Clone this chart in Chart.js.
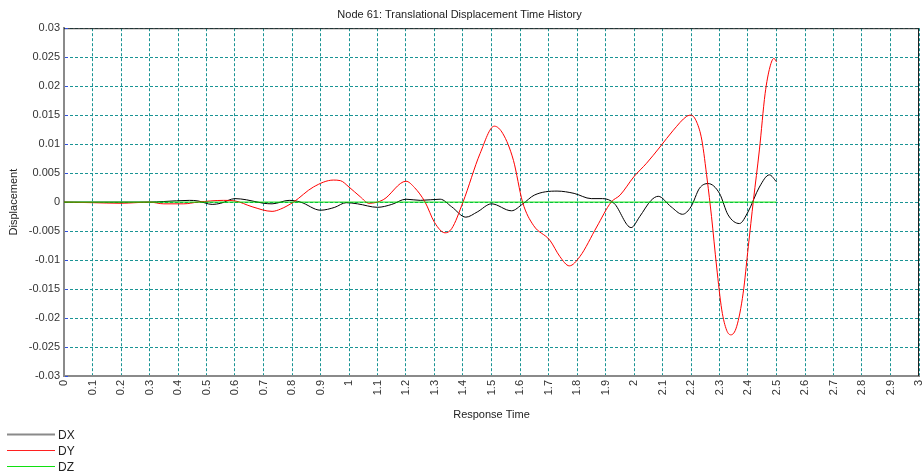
<!DOCTYPE html>
<html>
<head>
<meta charset="utf-8">
<script src="https://cdn.jsdelivr.net/npm/chart.js@4/dist/chart.umd.min.js"></script>
<style>
  html, body { margin: 0; padding: 0; background: #ffffff; }
  #wrap { width: 922px; height: 474px; position: relative; }
</style>
</head>
<body>
<div id="wrap"><canvas id="c" width="922" height="474"></canvas></div>
<script>
// ---- Data ----
const chartTitle = "Node 61: Translational Displacement Time History";
const xAxisTitle = "Response Time";
const yAxisTitle = "Displacement";
const seriesNames = ["DX", "DY", "DZ"];

const xTicks = [0,0.1,0.2,0.3,0.4,0.5,0.6,0.7,0.8,0.9,1,1.1,1.2,1.3,1.4,1.5,1.6,1.7,1.8,1.9,2,2.1,2.2,2.3,2.4,2.5,2.6,2.7,2.8,2.9,3];
const yTicks = [-0.03,-0.025,-0.02,-0.015,-0.01,-0.005,0,0.005,0.01,0.015,0.02,0.025,0.03];

const dxTime = [0,0.1,0.2,0.3,0.35,0.44,0.47,0.52,0.55,0.6,0.64,0.70,0.73,0.79,0.83,0.9,0.95,0.99,1.03,1.1,1.15,1.2,1.25,1.32,1.36,1.41,1.45,1.5,1.57,1.61,1.65,1.73,1.79,1.85,1.89,1.93,1.99,2.02,2.06,2.085,2.13,2.17,2.2,2.23,2.26,2.3,2.33,2.37,2.4,2.44,2.475,2.5];
const dxValue = [0,0,0,0,0.0001,0.0003,0.0002,-0.0004,-0.0002,0.0006,0.0004,-0.0002,-0.0003,0.0003,0.0,-0.0014,-0.0009,-0.0001,-0.0003,-0.0009,-0.0004,0.0005,0.0003,0.0005,-0.0008,-0.0026,-0.0017,-0.0003,-0.0015,-0.0003,0.0012,0.0019,0.0015,0.0006,0.0006,-0.0002,-0.0044,-0.0025,0.0003,0.001,-0.0008,-0.0021,-0.0008,0.0024,0.0032,0.0015,-0.0022,-0.0037,-0.0017,0.0026,0.0047,0.0035];

const dyTime = [0,0.1,0.2,0.25,0.3,0.35,0.42,0.47,0.56,0.6,0.66,0.73,0.76,0.805,0.875,0.945,0.97,1.0,1.04,1.07,1.12,1.2,1.23,1.267,1.3,1.337,1.36,1.4,1.46,1.51,1.54,1.577,1.609,1.647,1.705,1.74,1.773,1.81,1.869,1.92,1.951,2.0,2.044,2.091,2.138,2.185,2.2,2.22,2.238,2.257,2.272,2.29,2.308,2.325,2.34,2.36,2.383,2.401,2.419,2.44,2.46,2.477,2.491,2.5];
const dyValue = [0,-0.0001,-0.0002,-0.0001,0,-0.0003,-0.0003,0,0.0003,0.0002,-0.0008,-0.0016,-0.0012,0,0.0026,0.0038,0.0037,0.0026,0.0009,-0.0002,0.0004,0.0036,0.0025,0,-0.0035,-0.0053,-0.0046,0,0.0084,0.0131,0.0118,0.0072,0,-0.004,-0.0066,-0.0094,-0.011,-0.0094,-0.0043,0,0.0012,0.0044,0.0067,0.0095,0.0124,0.0148,0.015,0.0138,0.0107,0.0038,-0.0025,-0.0112,-0.0186,-0.0221,-0.0229,-0.0215,-0.0157,-0.0077,0.0003,0.009,0.0187,0.0233,0.0248,0.0242];

const dzTime = [0,0.5,1,1.5,2,2.5];
const dzValue = [0,0,0,0,0,0];

// ---- Styles ----
const FONT = "'Liberation Sans', Arial, sans-serif";
const lineColors = ["#000000", "#ff0000", "#00e000"];
const legendColors = ["#8a8a8a", "#ff2020", "#10e010"];
const legendWidths = [2, 1, 1];

function pairs(t, v) { return t.map((x, i) => ({ x: x, y: v[i] })); }
function fmt(v, d) { return String(parseFloat(v.toFixed(d))); }

const boxPlugin = {
  id: 'boxPlugin',
  beforeDatasetsDraw(chart) {
    const a = chart.chartArea, ctx = chart.ctx;
    ctx.save();
    ctx.strokeStyle = '#222';
    ctx.lineWidth = 1;
    ctx.beginPath();
    ctx.moveTo(a.left, a.top + 0.5); ctx.lineTo(a.right, a.top + 0.5);
    ctx.moveTo(a.right - 0.5, a.top); ctx.lineTo(a.right - 0.5, a.bottom);
    ctx.stroke();
    // small blue tick marks on the y axis
    const ys = chart.scales.y;
    ctx.strokeStyle = '#3050e0';
    ctx.beginPath();
    ys.ticks.forEach(t => {
      const py = Math.round(ys.getPixelForValue(t.value)) + 0.5;
      ctx.moveTo(a.left + 1, py); ctx.lineTo(a.left + 4, py);
    });
    ctx.stroke();
    ctx.restore();
  },
  afterDraw(chart) {
    const ctx = chart.ctx;
    ctx.save();
    ctx.font = "12px " + FONT;
    ctx.textBaseline = 'middle';
    ctx.fillStyle = '#222';
    const ys = [434.5, 450.5, 466.5];
    seriesNames.forEach((n, i) => {
      ctx.strokeStyle = legendColors[i];
      ctx.lineWidth = legendWidths[i];
      ctx.beginPath();
      ctx.moveTo(7, ys[i]); ctx.lineTo(55, ys[i]);
      ctx.stroke();
      ctx.fillText(n, 58, ys[i] + 1);
    });
    ctx.restore();
  }
};

new Chart(document.getElementById('c'), {
  type: 'line',
  data: {
    datasets: [
      { label: seriesNames[0], data: pairs(dxTime, dxValue), borderColor: lineColors[0], order: 2 },
      { label: seriesNames[1], data: pairs(dyTime, dyValue), borderColor: lineColors[1], order: 1 },
      { label: seriesNames[2], data: pairs(dzTime, dzValue), borderColor: lineColors[2], order: 0 }
    ]
  },
  options: {
    responsive: false,
    animation: false,
    devicePixelRatio: 1,
    layout: { padding: { left: 0, right: 3, top: 0, bottom: 52 } },
    elements: {
      point: { radius: 0 },
      line: { borderWidth: 1, cubicInterpolationMode: 'monotone', fill: false }
    },
    plugins: {
      legend: { display: false },
      tooltip: { enabled: false },
      title: {
        display: true, text: chartTitle, color: '#222',
        font: { family: FONT, size: 11, weight: 'normal' },
        padding: { top: 8, bottom: 7 }
      }
    },
    scales: {
      x: {
        type: 'linear', min: 0, max: 3,
        afterBuildTicks(s) { s.ticks = xTicks.map(v => ({ value: v })); },
        afterFit(s) { s.height = 46; s.paddingLeft = 0; s.paddingRight = 0; },
        ticks: {
          minRotation: 90, maxRotation: 90, autoSkip: false, padding: 4,
          color: '#333', font: { family: FONT, size: 11 },
          callback: v => fmt(v, 1)
        },
        grid: { color: '#1a9494', lineWidth: 1, drawTicks: false },
        border: { display: true, color: '#8a8a8a', width: 2, dash: [3, 2] },
        title: { display: true, text: xAxisTitle, color: '#222', font: { family: FONT, size: 11 }, padding: { top: 4, bottom: 0 } }
      },
      y: {
        type: 'linear', min: -0.03, max: 0.03,
        afterBuildTicks(s) { s.ticks = yTicks.map(v => ({ value: v })); },
        afterFit(s) { s.width = 64; },
        ticks: {
          padding: 4, color: '#333', font: { family: FONT, size: 11 },
          callback: v => fmt(v, 3)
        },
        grid: { color: '#1a9494', lineWidth: 1, drawTicks: false },
        border: { display: true, color: '#8a8a8a', width: 2, dash: [3, 2] },
        title: { display: true, text: yAxisTitle, color: '#222', font: { family: FONT, size: 11 }, padding: { top: 7, bottom: 0 } }
      }
    }
  },
  plugins: [boxPlugin]
});
</script>
</body>
</html>
